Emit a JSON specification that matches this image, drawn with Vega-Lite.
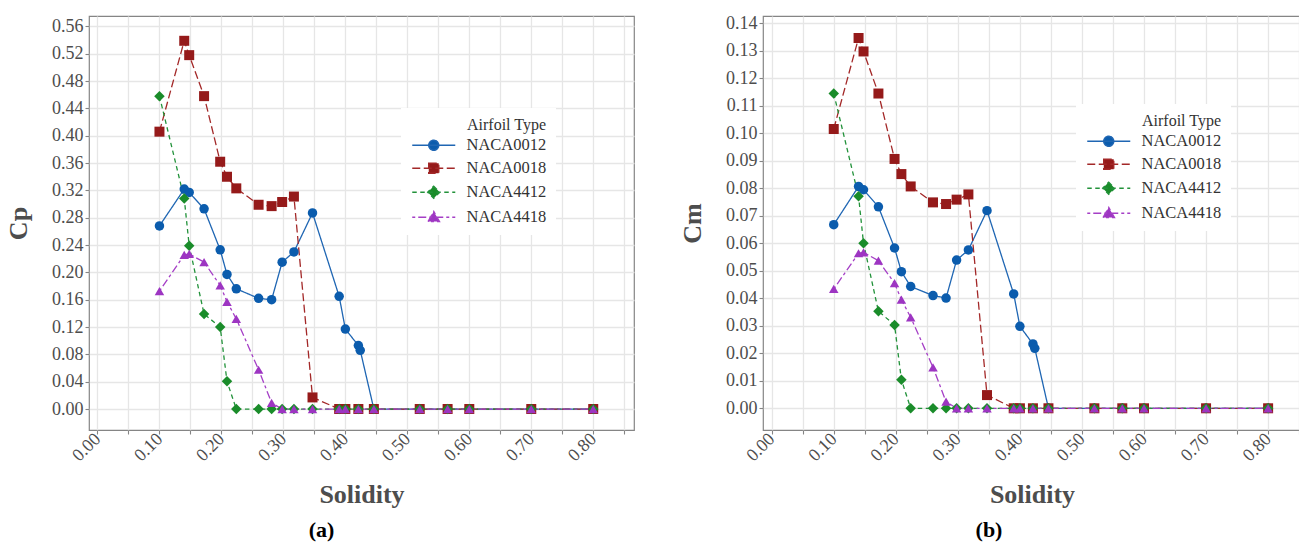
{
  "$schema": "https://vega.github.io/schema/vega-lite/v6.json",
  "background": "white",
  "padding": {"left": 4, "top": 13, "right": 0, "bottom": 0},
  "datasets": {
    "perf": [
      {"a": "NACA0012", "s": 0.10, "cp": 0.268, "cm": 0.0668},
      {"a": "NACA0012", "s": 0.14, "cp": 0.322, "cm": 0.0807},
      {"a": "NACA0012", "s": 0.148, "cp": 0.317, "cm": 0.0795},
      {"a": "NACA0012", "s": 0.172, "cp": 0.293, "cm": 0.0733},
      {"a": "NACA0012", "s": 0.198, "cp": 0.233, "cm": 0.0583},
      {"a": "NACA0012", "s": 0.209, "cp": 0.197, "cm": 0.0497},
      {"a": "NACA0012", "s": 0.224, "cp": 0.176, "cm": 0.0443},
      {"a": "NACA0012", "s": 0.26, "cp": 0.162, "cm": 0.0410},
      {"a": "NACA0012", "s": 0.281, "cp": 0.160, "cm": 0.0401},
      {"a": "NACA0012", "s": 0.298, "cp": 0.215, "cm": 0.0539},
      {"a": "NACA0012", "s": 0.317, "cp": 0.230, "cm": 0.0576},
      {"a": "NACA0012", "s": 0.347, "cp": 0.287, "cm": 0.0719},
      {"a": "NACA0012", "s": 0.39, "cp": 0.165, "cm": 0.0416},
      {"a": "NACA0012", "s": 0.40, "cp": 0.117, "cm": 0.0298},
      {"a": "NACA0012", "s": 0.421, "cp": 0.093, "cm": 0.0234},
      {"a": "NACA0012", "s": 0.424, "cp": 0.086, "cm": 0.0218},
      {"a": "NACA0012", "s": 0.446, "cp": 0, "cm": 0},
      {"a": "NACA0012", "s": 0.52, "cp": 0, "cm": 0},
      {"a": "NACA0012", "s": 0.565, "cp": 0, "cm": 0},
      {"a": "NACA0012", "s": 0.60, "cp": 0, "cm": 0},
      {"a": "NACA0012", "s": 0.70, "cp": 0, "cm": 0},
      {"a": "NACA0012", "s": 0.80, "cp": 0, "cm": 0},
      {"a": "NACA0018", "s": 0.10, "cp": 0.406, "cm": 0.1016},
      {"a": "NACA0018", "s": 0.14, "cp": 0.539, "cm": 0.1347},
      {"a": "NACA0018", "s": 0.148, "cp": 0.518, "cm": 0.1298},
      {"a": "NACA0018", "s": 0.172, "cp": 0.458, "cm": 0.1145},
      {"a": "NACA0018", "s": 0.198, "cp": 0.362, "cm": 0.0907},
      {"a": "NACA0018", "s": 0.209, "cp": 0.340, "cm": 0.0852},
      {"a": "NACA0018", "s": 0.224, "cp": 0.323, "cm": 0.0807},
      {"a": "NACA0018", "s": 0.26, "cp": 0.299, "cm": 0.0749},
      {"a": "NACA0018", "s": 0.281, "cp": 0.297, "cm": 0.0743},
      {"a": "NACA0018", "s": 0.298, "cp": 0.303, "cm": 0.0759},
      {"a": "NACA0018", "s": 0.317, "cp": 0.311, "cm": 0.0778},
      {"a": "NACA0018", "s": 0.347, "cp": 0.017, "cm": 0.0048},
      {"a": "NACA0018", "s": 0.39, "cp": 0, "cm": 0},
      {"a": "NACA0018", "s": 0.40, "cp": 0, "cm": 0},
      {"a": "NACA0018", "s": 0.421, "cp": 0, "cm": 0},
      {"a": "NACA0018", "s": 0.446, "cp": 0, "cm": 0},
      {"a": "NACA0018", "s": 0.52, "cp": 0, "cm": 0},
      {"a": "NACA0018", "s": 0.565, "cp": 0, "cm": 0},
      {"a": "NACA0018", "s": 0.60, "cp": 0, "cm": 0},
      {"a": "NACA0018", "s": 0.70, "cp": 0, "cm": 0},
      {"a": "NACA0018", "s": 0.80, "cp": 0, "cm": 0},
      {"a": "NACA4412", "s": 0.10, "cp": 0.458, "cm": 0.1145},
      {"a": "NACA4412", "s": 0.14, "cp": 0.308, "cm": 0.0771},
      {"a": "NACA4412", "s": 0.148, "cp": 0.239, "cm": 0.0600},
      {"a": "NACA4412", "s": 0.172, "cp": 0.139, "cm": 0.0353},
      {"a": "NACA4412", "s": 0.198, "cp": 0.120, "cm": 0.0303},
      {"a": "NACA4412", "s": 0.209, "cp": 0.0405, "cm": 0.0104},
      {"a": "NACA4412", "s": 0.224, "cp": 0, "cm": 0},
      {"a": "NACA4412", "s": 0.26, "cp": 0, "cm": 0},
      {"a": "NACA4412", "s": 0.281, "cp": 0, "cm": 0},
      {"a": "NACA4412", "s": 0.298, "cp": 0, "cm": 0},
      {"a": "NACA4412", "s": 0.317, "cp": 0, "cm": 0},
      {"a": "NACA4412", "s": 0.347, "cp": 0, "cm": 0},
      {"a": "NACA4412", "s": 0.39, "cp": 0, "cm": 0},
      {"a": "NACA4412", "s": 0.40, "cp": 0, "cm": 0},
      {"a": "NACA4412", "s": 0.421, "cp": 0, "cm": 0},
      {"a": "NACA4412", "s": 0.446, "cp": 0, "cm": 0},
      {"a": "NACA4412", "s": 0.52, "cp": 0, "cm": 0},
      {"a": "NACA4412", "s": 0.565, "cp": 0, "cm": 0},
      {"a": "NACA4412", "s": 0.60, "cp": 0, "cm": 0},
      {"a": "NACA4412", "s": 0.70, "cp": 0, "cm": 0},
      {"a": "NACA4412", "s": 0.80, "cp": 0, "cm": 0},
      {"a": "NACA4418", "s": 0.10, "cp": 0.1725, "cm": 0.0434},
      {"a": "NACA4418", "s": 0.14, "cp": 0.2256, "cm": 0.0564},
      {"a": "NACA4418", "s": 0.148, "cp": 0.227, "cm": 0.0567},
      {"a": "NACA4418", "s": 0.172, "cp": 0.215, "cm": 0.0537},
      {"a": "NACA4418", "s": 0.198, "cp": 0.181, "cm": 0.0455},
      {"a": "NACA4418", "s": 0.209, "cp": 0.157, "cm": 0.0395},
      {"a": "NACA4418", "s": 0.224, "cp": 0.132, "cm": 0.0331},
      {"a": "NACA4418", "s": 0.26, "cp": 0.0575, "cm": 0.0149},
      {"a": "NACA4418", "s": 0.281, "cp": 0.009, "cm": 0.0024},
      {"a": "NACA4418", "s": 0.298, "cp": 0, "cm": 0},
      {"a": "NACA4418", "s": 0.317, "cp": 0, "cm": 0},
      {"a": "NACA4418", "s": 0.347, "cp": 0, "cm": 0},
      {"a": "NACA4418", "s": 0.39, "cp": 0, "cm": 0},
      {"a": "NACA4418", "s": 0.40, "cp": 0, "cm": 0},
      {"a": "NACA4418", "s": 0.421, "cp": 0, "cm": 0},
      {"a": "NACA4418", "s": 0.446, "cp": 0, "cm": 0},
      {"a": "NACA4418", "s": 0.52, "cp": 0, "cm": 0},
      {"a": "NACA4418", "s": 0.565, "cp": 0, "cm": 0},
      {"a": "NACA4418", "s": 0.60, "cp": 0, "cm": 0},
      {"a": "NACA4418", "s": 0.70, "cp": 0, "cm": 0},
      {"a": "NACA4418", "s": 0.80, "cp": 0, "cm": 0}
    ]
  },
  "config": {
    "view": {"stroke": "#858585", "strokeWidth": 1.2},
    "axis": {
      "labelFont": "Liberation Serif", "labelFontSize": 18, "labelColor": "#4d4d4d",
      "titleFont": "Liberation Serif", "titleFontSize": 26, "titleFontWeight": "bold", "titleColor": "#4d4d4d",
      "gridColor": "#e6e6e6", "gridWidth": 1.3, "tickColor": "#858585", "tickSize": 4, "tickWidth": 1.1,
      "domain": false, "labelPadding": 2
    },
    "title": {"font": "Liberation Serif", "fontSize": 22, "fontWeight": "bold", "color": "#000000"},
    "legend": {
      "titleFont": "Liberation Serif", "titleFontSize": 16, "titleFontWeight": "normal", "titleColor": "#333333",
      "labelFont": "Liberation Serif", "labelFontSize": 16.5, "labelColor": "#333333"
    }
  },
  "resolve": {
    "scale": {"stroke": "independent", "strokeDash": "independent"},
    "legend": {"stroke": "independent", "strokeDash": "independent"}
  },
  "spacing": 129,
  "bounds": "flush",
  "hconcat": [
    {
      "width": 545,
      "height": 414,
      "data": {"name": "perf"},
      "title": {"text": "(a)", "orient": "bottom", "anchor": "middle", "dx": -40, "offset": 12},
      "encoding": {
        "x": {"field": "s", "type": "quantitative", "title": "Solidity",
          "scale": {"domain": [-0.0137, 0.8658], "nice": false, "zero": false},
          "axis": {"values": [0, 0.05, 0.1, 0.15, 0.2, 0.25, 0.3, 0.35, 0.4, 0.45, 0.5, 0.55, 0.6, 0.65, 0.7, 0.75, 0.8, 0.85],
            "format": ".2f", "labelAngle": -45, "labelAlign": "right", "labelBaseline": "middle", "titlePadding": 17}},
        "y": {"field": "cp", "type": "quantitative", "title": "Cp",
          "scale": {"domain": [-0.0307, 0.5753], "nice": false, "zero": false},
          "axis": {"values": [0, 0.04, 0.08, 0.12, 0.16, 0.2, 0.24, 0.28, 0.32, 0.36, 0.4, 0.44, 0.48, 0.52, 0.56],
            "format": ".2f", "titlePadding": 20}}
      },
      "layer": [
        {
          "mark": {"type": "line", "strokeWidth": 1.3},
          "encoding": {
            "stroke": {"field": "a", "type": "nominal",
              "scale": {"domain": ["NACA0012", "NACA0018", "NACA4412", "NACA4418"], "range": ["#1f66b3", "#a32828", "#22923a", "#a53fc6"]},
              "legend": {"orient": "none", "legendX": 312, "legendY": 92, "title": "Airfoil Type", "titleAnchor": "end",
                "fillColor": "white", "padding": 9, "symbolSize": 144, "symbolStrokeWidth": 1.5, "labelOffset": 40,
                "rowPadding": 6, "titlePadding": 4,
                "encode": {"symbols": {"update": {
                  "shape": {"signal": "datum.value === 'NACA0012' ? 'M-1,0L6.17,0M3.41,0A0.83,0.83,0,1,1,1.75,0A0.83,0.83,0,1,1,3.41,0Z' : datum.value === 'NACA0018' ? 'M-1,0L6.17,0M1.75,-0.83L3.41,-0.83L3.41,0.83L1.75,0.83Z' : datum.value === 'NACA4412' ? 'M-1,0L6.17,0M2.58,-1L3.58,0L2.58,1L1.58,0Z' : 'M-1,0L6.17,0M2.58,-0.95L3.53,0.72L1.63,0.72Z'"},
                  "fill": {"signal": "datum.value === 'NACA0012' ? '#0b5cad' : datum.value === 'NACA0018' ? '#951a1a' : datum.value === 'NACA4412' ? '#1a8c2a' : '#9d35c2'"}
                }}}}},
            "strokeDash": {"field": "a", "type": "nominal",
              "scale": {"domain": ["NACA0012", "NACA0018", "NACA4412", "NACA4418"], "range": [[1, 0], [8, 3.5], [4.5, 3.5], [3, 3, 8, 3]]}}
          }
        },
        {"transform": [{"filter": "datum.a === 'NACA0012'"}], "mark": {"type": "point", "shape": "circle", "filled": true, "opacity": 1, "size": 90, "strokeWidth": 0, "fill": "#0b5cad"}},
        {"transform": [{"filter": "datum.a === 'NACA0018'"}], "mark": {"type": "point", "shape": "square", "filled": true, "opacity": 1, "size": 100, "strokeWidth": 0, "fill": "#951a1a"}},
        {"transform": [{"filter": "datum.a === 'NACA4412'"}], "mark": {"type": "point", "shape": "diamond", "filled": true, "opacity": 1, "size": 110, "strokeWidth": 0, "fill": "#1a8c2a"}},
        {"transform": [{"filter": "datum.a === 'NACA4418'"}], "mark": {"type": "point", "shape": "triangle-up", "filled": true, "opacity": 1, "size": 90, "strokeWidth": 0, "fill": "#9d35c2"}}
      ]
    },
    {
      "width": 538,
      "height": 414,
      "data": {"name": "perf"},
      "title": {"text": "(b)", "orient": "bottom", "anchor": "middle", "dx": -43, "offset": 12},
      "encoding": {
        "x": {"field": "s", "type": "quantitative", "title": "Solidity",
          "scale": {"domain": [-0.014, 0.853], "nice": false, "zero": false},
          "axis": {"values": [0, 0.05, 0.1, 0.15, 0.2, 0.25, 0.3, 0.35, 0.4, 0.45, 0.5, 0.55, 0.6, 0.65, 0.7, 0.75, 0.8, 0.85],
            "format": ".2f", "labelAngle": -45, "labelAlign": "right", "labelBaseline": "middle", "titlePadding": 17}},
        "y": {"field": "cm", "type": "quantitative", "title": "Cm",
          "scale": {"domain": [-0.0079, 0.1427], "nice": false, "zero": false},
          "axis": {"values": [0, 0.01, 0.02, 0.03, 0.04, 0.05, 0.06, 0.07, 0.08, 0.09, 0.1, 0.11, 0.12, 0.13, 0.14],
            "format": ".2f", "titlePadding": 20}}
      },
      "layer": [
        {
          "mark": {"type": "line", "strokeWidth": 1.3},
          "encoding": {
            "stroke": {"field": "a", "type": "nominal",
              "scale": {"domain": ["NACA0012", "NACA0018", "NACA4412", "NACA4418"], "range": ["#1f66b3", "#a32828", "#22923a", "#a53fc6"]},
              "legend": {"orient": "none", "legendX": 313, "legendY": 88, "title": "Airfoil Type", "titleAnchor": "end",
                "fillColor": "white", "padding": 9, "symbolSize": 144, "symbolStrokeWidth": 1.5, "labelOffset": 40,
                "rowPadding": 6, "titlePadding": 4,
                "encode": {"symbols": {"update": {
                  "shape": {"signal": "datum.value === 'NACA0012' ? 'M-1,0L6.17,0M3.41,0A0.83,0.83,0,1,1,1.75,0A0.83,0.83,0,1,1,3.41,0Z' : datum.value === 'NACA0018' ? 'M-1,0L6.17,0M1.75,-0.83L3.41,-0.83L3.41,0.83L1.75,0.83Z' : datum.value === 'NACA4412' ? 'M-1,0L6.17,0M2.58,-1L3.58,0L2.58,1L1.58,0Z' : 'M-1,0L6.17,0M2.58,-0.95L3.53,0.72L1.63,0.72Z'"},
                  "fill": {"signal": "datum.value === 'NACA0012' ? '#0b5cad' : datum.value === 'NACA0018' ? '#951a1a' : datum.value === 'NACA4412' ? '#1a8c2a' : '#9d35c2'"}
                }}}}},
            "strokeDash": {"field": "a", "type": "nominal",
              "scale": {"domain": ["NACA0012", "NACA0018", "NACA4412", "NACA4418"], "range": [[1, 0], [8, 3.5], [4.5, 3.5], [3, 3, 8, 3]]}}
          }
        },
        {"transform": [{"filter": "datum.a === 'NACA0012'"}], "mark": {"type": "point", "shape": "circle", "filled": true, "opacity": 1, "size": 90, "strokeWidth": 0, "fill": "#0b5cad"}},
        {"transform": [{"filter": "datum.a === 'NACA0018'"}], "mark": {"type": "point", "shape": "square", "filled": true, "opacity": 1, "size": 100, "strokeWidth": 0, "fill": "#951a1a"}},
        {"transform": [{"filter": "datum.a === 'NACA4412'"}], "mark": {"type": "point", "shape": "diamond", "filled": true, "opacity": 1, "size": 110, "strokeWidth": 0, "fill": "#1a8c2a"}},
        {"transform": [{"filter": "datum.a === 'NACA4418'"}], "mark": {"type": "point", "shape": "triangle-up", "filled": true, "opacity": 1, "size": 90, "strokeWidth": 0, "fill": "#9d35c2"}}
      ]
    }
  ]
}
